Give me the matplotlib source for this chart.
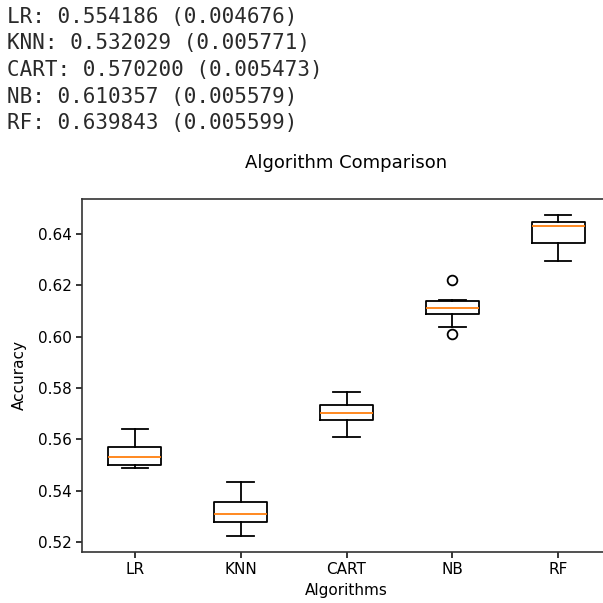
import matplotlib
matplotlib.use("Agg")
import matplotlib.pyplot as plt

# Printed cross-validation summary (mean, std) per algorithm.
names = ["LR", "KNN", "CART", "NB", "RF"]
means = [0.554186, 0.532029, 0.570200, 0.610357, 0.639843]
stds = [0.004676, 0.005771, 0.005473, 0.005579, 0.005599]

# Box statistics.
medians = [0.5533, 0.5311, 0.5702, 0.6112, 0.6431]
q1s = [0.5501, 0.5281, 0.5677, 0.6089, 0.6362]
q3s = [0.5569, 0.5355, 0.5733, 0.6139, 0.6446]
whislos = [0.5488, 0.5225, 0.5608, 0.6037, 0.6294]
whishis = [0.5640, 0.5433, 0.5785, 0.6143, 0.6472]
fliers = [[], [], [], [0.6218, 0.6010], []]

fig = plt.figure(figsize=(6.03, 6.03), dpi=100)

# The console output above the plot.
line_y = [17, 43, 70, 97, 123]
for name, m, s, y in zip(names, means, stds, line_y):
    fig.text(7 / 603, 1 - y / 603, "%s: %f (%f)" % (name, m, s),
             family="DejaVu Sans Mono", fontsize=15, color="#2a2a2a", va="center")

# Axes run past the right edge, as in the screenshot.
ax = fig.add_axes([82 / 603, 51 / 603, 529 / 603, 353 / 603])

stats = []
for name, med, q1, q3, lo, hi, fl in zip(names, medians, q1s, q3s, whislos, whishis, fliers):
    stats.append(dict(label=name, med=med, q1=q1, q3=q3, whislo=lo, whishi=hi, fliers=fl))

lw = 1.3
ax.bxp(stats,
       boxprops=dict(linewidth=lw),
       whiskerprops=dict(linewidth=lw),
       capprops=dict(linewidth=lw),
       medianprops=dict(linewidth=lw, color="C1"),
       flierprops=dict(markersize=7, markeredgewidth=lw))

for sp in ax.spines.values():
    sp.set_linewidth(1.2)
    sp.set_color("#333333")
ax.tick_params(labelsize=11, width=1.1, length=4)

ax.set_title("Algorithm Comparison", fontsize=13, pad=22)
ax.set_xlabel("Algorithms", fontsize=11)
ax.set_ylabel("Accuracy", fontsize=11, labelpad=8)

fig.savefig("out.png", dpi=100)
